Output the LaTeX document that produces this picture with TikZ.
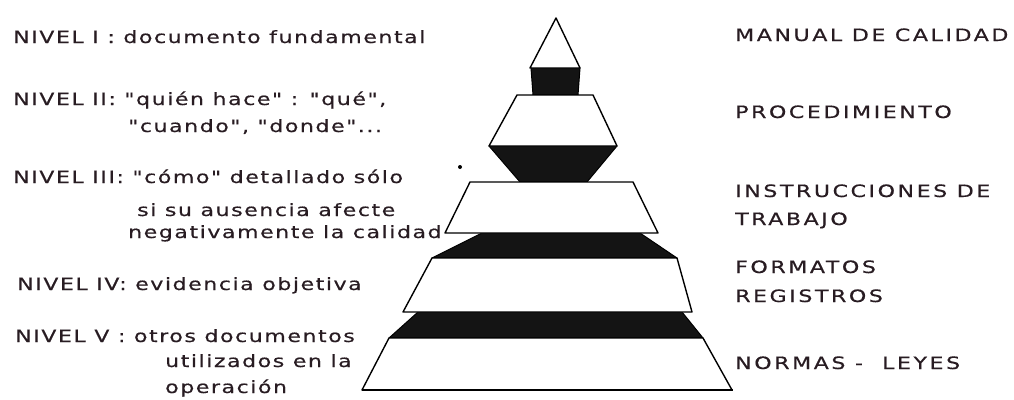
\documentclass[tikz,border=0pt]{standalone}
\usepackage{fontspec}
\newfontfamily\leftfnt[FakeStretch=1.3,LetterSpace=9,FakeBold=0.5]{DejaVu Sans}
\newfontfamily\rightfnt[FakeStretch=1.3,LetterSpace=15,FakeBold=0.5]{DejaVu Sans}
\definecolor{ink}{RGB}{40,28,34}
\tikzset{
  lefttext/.style={anchor=base west,inner sep=0pt,text=ink,font=\leftfnt\fontsize{17}{20}\selectfont},
  righttext/.style={anchor=base west,inner sep=0pt,text=ink,font=\rightfnt\fontsize{17}{20}\selectfont},
  whiteshape/.style={fill=white,draw=black,line width=1.4pt,line join=round},
  blackshape/.style={fill=black!92,draw=black,line width=1pt,line join=round},
}
\begin{document}
\begin{tikzpicture}[x=1pt,y=-1pt]
\useasboundingbox (0,0) rectangle (1014,399);
% black bands
\filldraw[blackshape] (531,68) -- (580,68) -- (578,95) -- (533,95) -- cycle;
\filldraw[blackshape] (489,146) -- (617,146) -- (587,182) -- (520,182) -- cycle;
\filldraw[blackshape] (482,233) -- (640,233) -- (677,258) -- (432,258) -- cycle;
\filldraw[blackshape] (418,312) -- (682,312) -- (703,338) -- (389,338) -- cycle;
% white levels
\filldraw[whiteshape] (556,18) -- (580,68) -- (530,68) -- cycle;
\filldraw[whiteshape] (517,95) -- (593,95) -- (617,146) -- (489,146) -- cycle;
\filldraw[whiteshape] (470,182) -- (633,182) -- (658,233) -- (445,233) -- cycle;
\filldraw[whiteshape] (432,258) -- (677,258) -- (692,312) -- (403,312) -- cycle;
\filldraw[whiteshape] (389,338) -- (703,338) -- (732,390) -- (362,390) -- cycle;
\draw[line width=2pt] (362,390) -- (733,390);
\fill[black] (460,167) circle (2);
% left labels
\node[lefttext] (n1) at (13,43) {NIVEL I : documento fundamental};
\node[lefttext] (n2) at (13,105) {NIVEL II: "quién hace" : "qué",};
\node[lefttext] (n2b) at (128,132) {"cuando", "donde"...};
\node[lefttext] (n3) at (13,183) {NIVEL III: "cómo" detallado sólo};
\node[lefttext] (n3b) at (137,216) {si su ausencia afecte};
\node[lefttext] (n3c) at (128,238) {negativamente la calidad};
\node[lefttext] (n4) at (17,290) {NIVEL IV: evidencia objetiva};
\node[lefttext] (n5) at (15,342) {NIVEL V : otros documentos};
\node[lefttext] (n5b) at (165,367) {utilizados en la};
\node[lefttext] (n5c) at (165,393) {operación};
% right labels
\node[righttext] (r1) at (735,41) {MANUAL DE CALIDAD};
\node[righttext] (r2) at (735,118) {PROCEDIMIENTO};
\node[righttext] (r3) at (735,197) {INSTRUCCIONES DE};
\node[righttext] (r3b) at (735,225) {TRABAJO};
\node[righttext] (r4) at (735,273) {FORMATOS};
\node[righttext] (r4b) at (735,302) {REGISTROS};
\node[righttext] (r5) at (735,369) {NORMAS -\ \ LEYES};
\end{tikzpicture}
\end{document}
